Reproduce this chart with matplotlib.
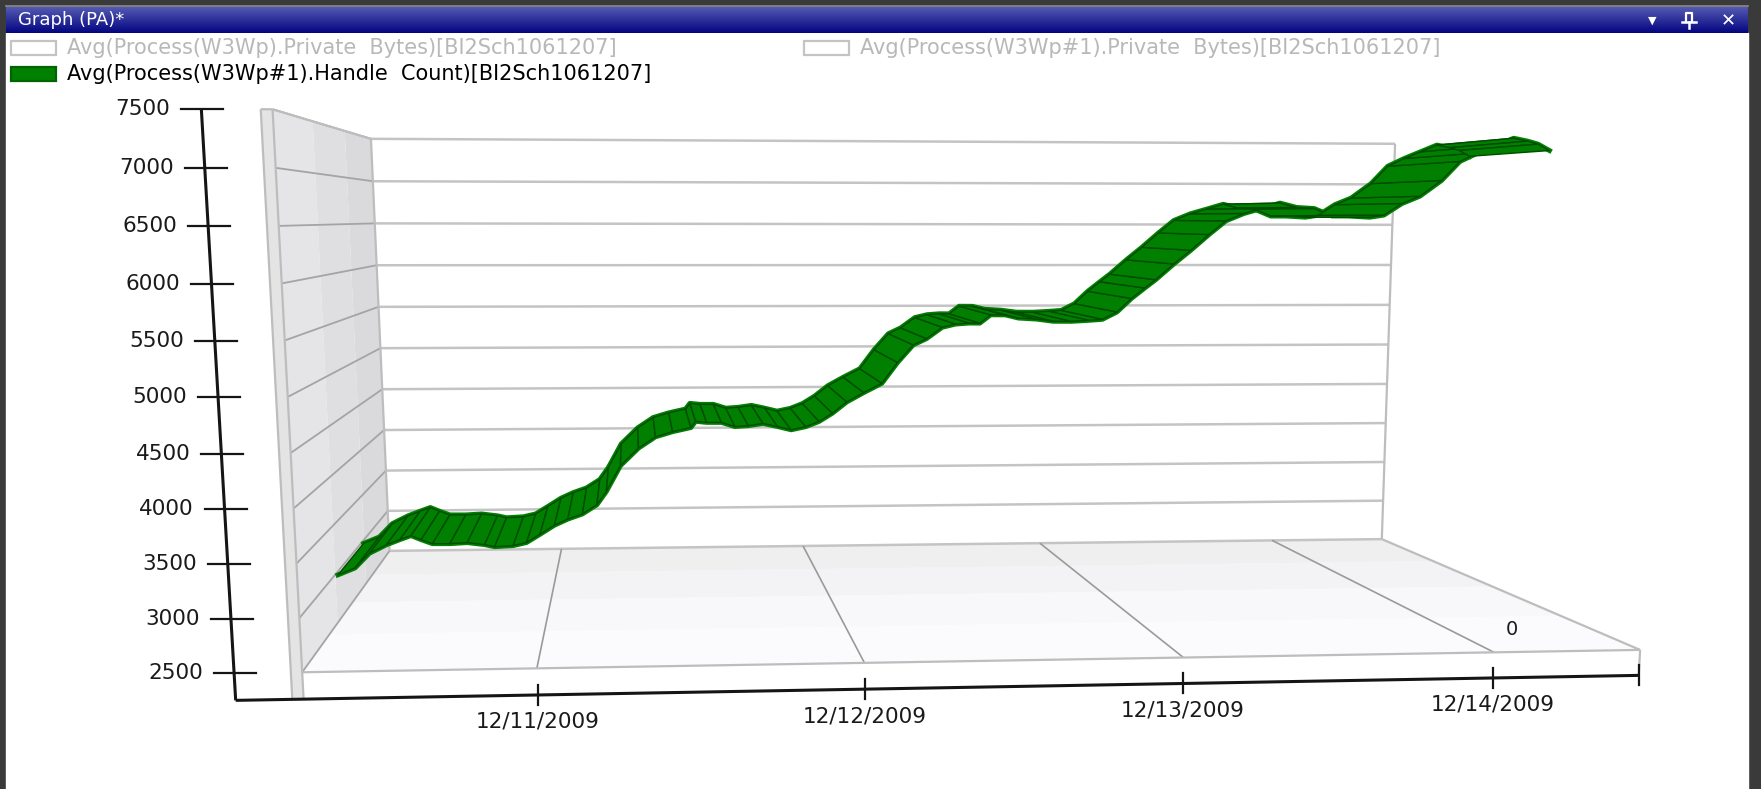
import numpy as np
import matplotlib
matplotlib.use("Agg")
import matplotlib.pyplot as plt
from matplotlib.collections import PolyCollection
from matplotlib.patches import Rectangle, Polygon


# ---- data ----------------------------------------------------------------
# hours after 12/10/2009 00:00 and handle count of W3Wp#1
hours = [7.2, 8.6, 9.8, 11.2, 12.3, 13.2, 14.0, 14.9, 16.3, 17.7, 19.1, 19.9,
         21.4, 22.5, 23.6, 24.8, 25.9, 27.1, 28.3, 29.1, 30.3, 31.8, 33.2, 34.6,
         36.1, 36.5, 37.4, 38.6, 39.7, 40.8, 42.0, 43.2, 44.3, 45.5, 46.6, 47.7,
         48.9, 50.3, 51.8, 53.1, 54.4, 55.5, 56.8, 57.9, 59.0, 59.9, 60.8, 62.0,
         63.1, 64.6, 66.0, 67.5, 69.0, 70.1, 71.3, 72.5, 73.6, 74.5, 76.0, 77.4,
         78.9, 80.3, 81.8, 83.3, 84.8, 86.2, 87.7, 89.2, 90.6, 92.4, 93.6, 95.1,
         96.6, 98.4, 99.9, 101.4, 102.9, 104.4, 105.6, 106.5, 107.5]
handles = [2965, 3035, 3185, 3271, 3323, 3363, 3320, 3277, 3275, 3284, 3261, 3238,
           3247, 3278, 3361, 3454, 3516, 3568, 3662, 3799, 4064, 4243, 4358, 4410,
           4451, 4515, 4503, 4502, 4458, 4467, 4488, 4455, 4421, 4452, 4505, 4589,
           4705, 4800, 4895, 5108, 5288, 5352, 5468, 5500, 5510, 5509, 5594, 5593,
           5560, 5549, 5526, 5525, 5535, 5545, 5620, 5759, 5866, 5951, 6112, 6252,
           6413, 6553, 6628, 6681, 6735, 6691, 6680, 6604, 6604, 6592, 6614, 6733,
           6808, 6970, 7165, 7252, 7328, 7404, 7375, 7345, 7280]

y_ticks = [2500, 3000, 3500, 4000, 4500, 5000, 5500, 6000, 6500, 7000, 7500]
x_tick_hours = [24, 48, 72, 96]
x_tick_labels = ['12/11/2009', '12/12/2009', '12/13/2009', '12/14/2009']
series_label = '0'

legend_labels = ['Avg(Process(W3Wp).Private  Bytes)[BI2Sch1061207]',
                 'Avg(Process(W3Wp#1).Private  Bytes)[BI2Sch1061207]',
                 'Avg(Process(W3Wp#1).Handle  Count)[BI2Sch1061207]']
legend_active = [False, False, True]
window_title = 'Graph (PA)*'

W, H = 1761, 789
GREEN = '#007f00'
FONT = 'DejaVu Sans'

H0, H1 = hours[0], hours[-1]
VMIN, VMAX = y_ticks[0], y_ticks[-1]


def to_u(h):
    return (np.asarray(h, float) - H0) / (H1 - H0)


def to_v(val):
    return (np.asarray(val, float) - VMIN) / (VMAX - VMIN)


# ---- perspective camera fitted to the box of the original chart ------------
# world: u = time (0..1), v = value (0..1), w = depth (0 front .. 1 back)
anchors_world = [(0, 0, 0), (0, 1, 0), (0, 0, 1), (0, 1, 1),
                 (1, 0, 1), (1, 1, 1), (1, 0, 0)]
anchors_px = [(303, 672), (272, 109), (388, 550), (372, 140),
              (1378, 540), (1395, 143), (1641, 650)]
front_tick_px = [(536, 668), (863, 663), (1183, 657), (1494, 652)]
back_tick_px = [(560, 548), (804, 546), (1042, 543), (1275, 541)]
for u, f, b in zip(to_u(x_tick_hours), front_tick_px, back_tick_px):
    anchors_world += [(u, 0, 0), (u, 0, 1)]
    anchors_px += [f, b]
ytick_px = [673, 619, 564, 509, 453, 397, 340, 283, 226, 167, 110]
for v, yp in zip(to_v(y_ticks), ytick_px):
    anchors_world.append((0, v, 0))
    anchors_px.append((303 + (272 - 303) * (672 - yp) / (672 - 109), yp))


def fit_camera(world, screen):
    rows = []
    for (u, v, w), (x, y) in zip(world, screen):
        X = [u, v, w, 1.0]
        x, y = x / 1000.0, y / 1000.0
        rows.append(X + [0, 0, 0, 0] + [-x * c for c in X])
        rows.append([0, 0, 0, 0] + X + [-y * c for c in X])
    _, _, vt = np.linalg.svd(np.array(rows))
    return vt[-1].reshape(3, 4)


CAM = fit_camera(anchors_world, anchors_px)


def proj(u, v, w):
    u, v, w = np.broadcast_arrays(np.asarray(u, float), np.asarray(v, float),
                                  np.asarray(w, float))
    X = np.stack([u.ravel(), v.ravel(), w.ravel(), np.ones(u.size)])
    p = CAM @ X
    return (1000 * p[0] / p[2]).reshape(u.shape), (1000 * p[1] / p[2]).reshape(u.shape)


fig = plt.figure(figsize=(W / 100, H / 100), dpi=100)
ax = fig.add_axes([0, 0, 1, 1])
ax.set_xlim(0, W)
ax.set_ylim(H, 0)
ax.axis('off')


def face(corners, **kw):
    xs, ys = proj(*np.array(corners, float).T)
    ax.add_patch(Polygon(np.column_stack([xs, ys]), closed=True, **kw))


def edge(p, q, **kw):
    xs, ys = proj(*np.array([p, q], float).T)
    ax.plot(xs, ys, solid_capstyle='butt', **kw)


# ---- window chrome -------------------------------------------------------
ax.add_patch(Rectangle((0, 0), W, H, color='#3a3a3a', zorder=0))
ax.add_patch(Rectangle((6, 33), 1742, H - 33, color='white', zorder=0))
ax.plot([6, 1748], [6, 6], color='#8c8c8c', lw=1.2, zorder=1)
grad = np.linspace(0, 1, 64)[:, None]
top_c, bot_c = np.array([0.33, 0.35, 0.70]), np.array([0.01, 0.02, 0.50])
ax.imshow((top_c + (bot_c - top_c) * grad[..., None]) * np.ones((1, 2, 1)),
          extent=(6, 1748, 33, 7), aspect='auto', zorder=1)
ax.text(18, 20, window_title, color='white', fontsize=13, family=FONT,
        va='center', ha='left', zorder=2)
ax.text(1652, 21, '\u25BC', color='white', fontsize=8, family=FONT,
        va='center', ha='center', zorder=2)
ax.plot([1686, 1686, 1692, 1692], [22, 13, 13, 22], color='white', lw=1.6, zorder=2)
ax.plot([1682, 1696], [22, 22], color='white', lw=1.8, zorder=2)
ax.plot([1689, 1689], [22, 28], color='white', lw=1.8, zorder=2)
ax.text(1728, 21, '\u2715', color='white', fontsize=13, family=FONT,
        fontweight='bold', va='center', ha='center', zorder=2)

# ---- legend --------------------------------------------------------------
legend_pos = [(11, 48), (804, 48), (11, 74)]
for (lx, ly), lab, on in zip(legend_pos, legend_labels, legend_active):
    ax.add_patch(Rectangle((lx, ly - 7), 45, 14, facecolor='#008000' if on else 'white',
                           edgecolor='#006400' if on else '#c4c4c4', lw=1.6, zorder=2))
    ax.text(lx + 56, ly, lab, color='black' if on else '#b8b8b8', fontsize=15,
            family=FONT, va='center', ha='left', zorder=2)

# ---- 3D frame ------------------------------------------------------------
DV = 0.05      # floor slab thickness
DU_WALL = 0.008
DU_AXIS = 0.048
z = dict(zorder=3)

# floor (lighter towards the front)
floor_cols = ['#fbfafc', '#f8f7f9', '#f3f2f4', '#efefef']
for i, c in enumerate(floor_cols):
    w0, w1 = i / len(floor_cols), (i + 1) / len(floor_cols)
    face([(0, 0, w0), (1, 0, w0), (1, 0, w1), (0, 0, w1)], facecolor=c, edgecolor='none', **z)
face([(0, 0, 0), (1, 0, 0), (1, -DV, 0), (0, -DV, 0)], facecolor='white', edgecolor='none', **z)
# left wall
wall_cols = ['#e5e4e7', '#dfdee1', '#dadadc']
for i, c in enumerate(wall_cols):
    w0, w1 = i / len(wall_cols), (i + 1) / len(wall_cols)
    face([(0, 0, w0), (0, 1, w0), (0, 1, w1), (0, 0, w1)], facecolor=c, edgecolor='none', **z)
face([(-DU_WALL, -DV, 0), (-DU_WALL, 1, 0), (0, 1, 0), (0, -DV, 0)],
     facecolor='#e4e4e4', edgecolor='none', **z)
# back wall
face([(0, 0, 1), (1, 0, 1), (1, 1, 1), (0, 1, 1)], facecolor='white', edgecolor='none', **z)

z = dict(zorder=4)
for val in y_ticks:
    v = to_v(val)
    edge((0, v, 1), (1, v, 1), color='#c4c4c4', lw=1.8, **z)
    edge((0, v, 0), (0, v, 1), color='#a4a4a4', lw=1.3, **z)
for u in to_u(x_tick_hours):
    edge((u, 0, 0), (u, 0, 1), color='#9a9a9a', lw=1.2, **z)

frame_kw = dict(color='#bdbdbd', lw=1.6, zorder=4)
edge((1, 0, 1), (1, 1, 1), **frame_kw)
edge((0, 0, 1), (0, 1, 1), **frame_kw)
edge((0, -DV, 0), (0, 1, 0), **frame_kw)
edge((-DU_WALL, -DV, 0), (-DU_WALL, 1, 0), **frame_kw)
edge((-DU_WALL, 1, 0), (0, 1, 0), **frame_kw)
edge((0, 1, 0), (0, 1, 1), **frame_kw)
edge((0, 0, 0), (1, 0, 0), **frame_kw)
edge((1, 0, 0), (1, 0, 1), **frame_kw)
edge((1, 0, 0), (1, -DV, 0), **frame_kw)

# ---- the series ribbon ---------------------------------------------------
W_FRONT, W_BACK = 0.36, 0.66
uu, vv = to_u(hours), to_v(handles)
xa, ya = proj(uu, vv, W_FRONT)
xb, yb = proj(uu, vv, W_BACK)
ax.plot(xa, ya, color=GREEN, lw=3.5, solid_joinstyle='round', zorder=5)
ax.plot(xb, yb, color=GREEN, lw=3.5, solid_joinstyle='round', zorder=5)
verts = [[(xa[i], ya[i]), (xa[i + 1], ya[i + 1]), (xb[i + 1], yb[i + 1]), (xb[i], yb[i])]
         for i in range(len(hours) - 1)]
ax.add_collection(PolyCollection(verts, facecolors=GREEN, edgecolors='#004c00',
                                 linewidths=1.0, zorder=5))

# ---- axes ----------------------------------------------------------------
ax_kw = dict(color='#151515', lw=2.2, zorder=6)
edge((-DU_AXIS, -DV, 0), (-DU_AXIS, 1, 0), **ax_kw)
edge((-DU_AXIS, -DV, 0), (1, -DV, 0), **ax_kw)
for val in y_ticks:
    tx, ty = proj(-DU_AXIS, to_v(val), 0)
    ax.plot([tx - 20, tx + 22], [ty, ty], color='#151515', lw=1.6, zorder=6)
    ax.text(tx - 31, ty, str(val), ha='right', va='center', fontsize=15.5,
            family=FONT, color='#1a1a1a', zorder=6)
for u, lab in zip(to_u(x_tick_hours), x_tick_labels):
    tx, ty = proj(u, -DV, 0)
    ax.plot([tx, tx], [ty - 10, ty + 10], color='#151515', lw=1.6, zorder=6)
    ax.text(tx, ty + 27, lab, ha='center', va='center', fontsize=15.5,
            family=FONT, color='#1a1a1a', zorder=6)
tx, ty = proj(1, -DV, 0)
ax.plot([tx, tx], [ty - 10, ty + 10], color='#151515', lw=1.6, zorder=6)

lx, ly = proj(0.935, 0, 0.15)
ax.text(lx, ly, series_label, ha='center', va='center', fontsize=14,
        family=FONT, color='#1a1a1a', zorder=6)

fig.savefig('out.png', dpi=100)
